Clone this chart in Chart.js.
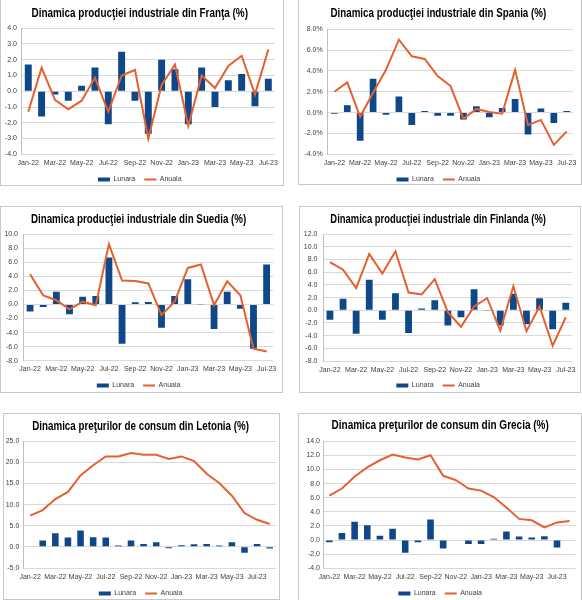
<!DOCTYPE html>
<html><head><meta charset="utf-8">
<script src="https://cdn.jsdelivr.net/npm/chart.js@4"></script>
<style>
html,body{margin:0;padding:0;background:#fff;overflow:hidden;width:582px;height:600px;}
.panel{position:absolute;box-sizing:border-box;border:1px solid #c8c8c8;}
.panel canvas{position:absolute;left:0;top:0;}
</style></head><body>
<div id="root"></div>
<script>
// ---- categories ----
const months19 = ['Jan-22','Feb-22','Mar-22','Apr-22','May-22','Jun-22','Jul-22','Aug-22','Sep-22','Oct-22','Nov-22','Dec-22','Jan-23','Feb-23','Mar-23','Apr-23','May-23','Jun-23','Jul-23'];
const months20 = months19.concat(['Aug-23']);
const seriesNames = ['Lunara', 'Anuala'];

// ---- series values ----
const franceMonthly = [1.7, -1.6, -0.2, -0.6, 0.35, 1.5, -2.1, 2.5, -0.6, -2.7, 2.0, 1.4, -2.1, 1.5, -1.0, 0.7, 1.1, -0.95, 0.8];
const franceAnnual  = [-1.3, 1.5, -0.55, -1.15, -0.6, 0.85, -1.3, 1.0, 1.35, -3.0, 0.4, 1.7, -2.2, 1.0, 0.2, 1.6, 2.25, -0.2, 2.65];

const spainMonthly = [-0.1, 0.7, -2.7, 3.25, -0.2, 1.55, -1.2, 0.15, -0.3, -0.3, -0.65, 0.6, -0.45, 0.45, 1.3, -2.1, 0.4, -1.0, 0.15];
const spainAnnual  = [2.0, 2.9, -0.4, 1.9, 4.1, 7.0, 5.4, 5.15, 3.5, 2.55, -0.6, 0.35, 0.05, -0.1, 4.1, -1.2, -0.7, -3.1, -1.8];

const swedenMonthly = [-1.0, -0.35, 1.8, -1.4, 1.1, 1.2, 6.7, -5.6, 0.3, 0.35, -3.3, 1.2, 3.6, -0.05, -3.5, 1.8, -0.6, -6.3, 5.7];
const swedenAnnual  = [4.3, 1.3, 0.6, -0.7, 0.4, -0.1, 8.6, 3.4, 3.35, 3.0, -1.5, 0.4, 5.2, 5.7, -0.1, 3.3, 1.3, -6.3, -6.7];

const finlandMonthly = [-1.5, 1.8, -3.7, 4.8, -1.5, 2.7, -3.6, 0.3, 1.6, -2.4, -1.1, 3.3, -0.05, -2.4, 2.6, -2.2, 1.9, -3.0, 1.2];
const finlandAnnual  = [7.6, 6.4, 3.5, 8.9, 5.8, 9.3, 2.8, 2.5, 4.9, -0.3, -2.6, 0.6, 1.9, -3.2, 3.8, -3.3, 0.6, -5.6, -1.1];

const latviaMonthly = [0, 1.5, 3.2, 2.2, 3.9, 2.3, 2.2, 0.3, 1.5, 0.7, 1.1, -0.35, 0.4, 0.6, 0.7, 0.3, 1.1, -1.4, 0.7, -0.4];
const latviaAnnual  = [7.4, 8.7, 11.3, 13.0, 16.9, 19.3, 21.4, 21.4, 22.2, 21.8, 21.8, 20.8, 21.4, 20.3, 17.3, 15.1, 12.1, 8.0, 6.4, 5.4];

const greeceMonthly = [-0.3, 1.0, 2.6, 2.1, 0.6, 1.6, -1.8, -0.3, 2.9, -1.2, 0, -0.55, -0.55, 0.2, 1.2, 0.5, 0.35, 0.55, -1.05, null];
const greeceAnnual  = [6.3, 7.3, 9.0, 10.3, 11.3, 12.1, 11.7, 11.4, 12.0, 9.1, 8.5, 7.3, 7.0, 6.1, 4.6, 3.0, 2.8, 1.8, 2.5, 2.7];

// ---- titles and axis ranges ----
const titles = [
  'Dinamica producţiei industriale din Franţa (%)',
  'Dinamica producţiei industriale din Spania (%)',
  'Dinamica producţiei industriale din Suedia (%)',
  'Dinamica producţiei industriale din Finlanda (%)',
  'Dinamica preţurilor de consum din Letonia (%)',
  'Dinamica preţurilor de consum din Grecia (%)'
];
const yMin  = [-4, -4, -8, -8, -5, -4];
const yMax  = [4, 8, 10, 12, 25, 14];
const yStep = [1, 2, 2, 2, 5, 2];
const ySuffix = ['', '%', '', '', '', ''];

// ---- layout (positions / sizes) ----
const panels = [
  {div:[0,-1,284,187],   cw:282, ch:193, PL:3.5, PR:8,   PT:6.1, pb:7.8, Wy:17.1, Hx:12.7, yPad:4.6},
  {div:[298,-1,284,186], cw:282, ch:193, PL:4.5, PR:7.8, PT:6.1, pb:8.8, Wy:24.4, Hx:12.7, yPad:5.2},
  {div:[0,206,283,187],  cw:281, ch:192, PL:3,   PR:8.8, PT:4.8, pb:8.1, Wy:19.5, Hx:12.3, yPad:5.5},
  {div:[299,206,282,187],cw:280, ch:192, PL:3.4, PR:7.1, PT:4.8, pb:8.1, Wy:20.0, Hx:12.0, yPad:6},
  {div:[3,413,277,187],  cw:275, ch:193, PL:1.2, PR:3,   PT:4.8, pb:8.1, Wy:18.6, Hx:13.0, yPad:4.5},
  {div:[298,413,284,188],cw:282, ch:193, PL:5.4, PR:5,   PT:3.8, pb:9.1, Wy:18.6, Hx:12.7, yPad:3}
];

const chartData = [
  [months19, franceMonthly, franceAnnual],
  [months19, spainMonthly, spainAnnual],
  [months19, swedenMonthly, swedenAnnual],
  [months19, finlandMonthly, finlandAnnual],
  [months20, latviaMonthly, latviaAnnual],
  [months20, greeceMonthly, greeceAnnual]
];

const BAR = '#0e4888';
const LINE = '#e4612f';
const TICK = '#404040';
const tickFont = {family: "'Liberation Sans', Arial, sans-serif", size: 7};
const TITLE_SCALE_X = 0.8;

// draws the library's own title block horizontally condensed
const condensedTitle = {
  id: 'condensedTitle',
  afterLayout(chart) {
    const tb = chart.titleBlock;
    if (!tb || tb._condensed) return;
    const orig = tb.draw;
    tb.draw = function () {
      const ctx = this.ctx;
      const cx = (this.left + this.right) / 2;
      ctx.save();
      ctx.translate(cx, 0);
      ctx.scale(TITLE_SCALE_X, 1);
      ctx.translate(-cx, 0);
      orig.apply(this, arguments);
      ctx.restore();
    };
    tb._condensed = true;
  }
};

const root = document.getElementById('root');
panels.forEach((p, k) => {
  const d = document.createElement('div');
  d.className = 'panel';
  d.style.left = p.div[0] + 'px';
  d.style.top = p.div[1] + 'px';
  d.style.width = p.div[2] + 'px';
  d.style.height = p.div[3] + 'px';
  const c = document.createElement('canvas');
  c.width = p.cw; c.height = p.ch;
  c.style.width = p.cw + 'px'; c.style.height = p.ch + 'px';
  d.appendChild(c);
  root.appendChild(d);

  const [labels, monthly, annual] = chartData[k];
  new Chart(c, {
    data: {
      labels: labels,
      datasets: [
        {type: 'bar', label: seriesNames[0], data: monthly, backgroundColor: BAR, borderWidth: 0,
         barPercentage: 0.52, categoryPercentage: 1, order: 1},
        {type: 'line', label: seriesNames[1], data: annual, borderColor: LINE, backgroundColor: LINE,
         borderWidth: 2, pointRadius: 0, tension: 0, fill: false, order: 0}
      ]
    },
    plugins: [condensedTitle],
    options: {
      responsive: false,
      animation: false,
      layout: {padding: {left: p.PL, right: p.PR, top: p.PT, bottom: 0}},
      plugins: {
        tooltip: {enabled: false},
        title: {
          display: true, text: titles[k], color: '#000',
          font: {family: "'Liberation Sans', Arial, sans-serif", weight: 'bold', size: 13, lineHeight: 1.1},
          padding: {top: 0, bottom: p.pb}
        },
        legend: {
          position: 'bottom',
          labels: {
            color: TICK, font: tickFont, usePointStyle: true, pointStyleWidth: 12, boxHeight: 4, padding: 9,
            generateLabels: (chart) => {
              const items = Chart.defaults.plugins.legend.labels.generateLabels(chart);
              items.forEach(it => {
                it.pointStyle = it.datasetIndex === 0 ? 'rect' : 'line';
                if (it.datasetIndex === 0) { it.lineWidth = 0; it.strokeStyle = BAR; }
                else { it.lineWidth = 2; it.strokeStyle = LINE; }
              });
              return items;
            },
            sort: (a, b) => a.datasetIndex - b.datasetIndex
          }
        }
      },
      scales: {
        x: {
          offset: true,
          grid: {display: false, drawTicks: false},
          border: {display: false},
          ticks: {
            autoSkip: false, maxRotation: 0, minRotation: 0, padding: 4.5,
            color: TICK, font: tickFont,
            callback: (v, i) => (i % 2 === 0 ? labels[i] : '')
          },
          afterFit: (s) => { s.height = p.Hx; }
        },
        y: {
          min: yMin[k], max: yMax[k],
          grid: {color: '#d9d9d9', lineWidth: 1, drawTicks: false},
          border: {display: true, color: '#bfbfbf', width: 1},
          ticks: {
            stepSize: yStep[k], padding: p.yPad, color: TICK, font: tickFont,
            callback: (v) => Number(v).toFixed(1) + ySuffix[k]
          },
          afterFit: (s) => { s.width = p.Wy; }
        }
      }
    }
  });
});
</script>
</body></html>
